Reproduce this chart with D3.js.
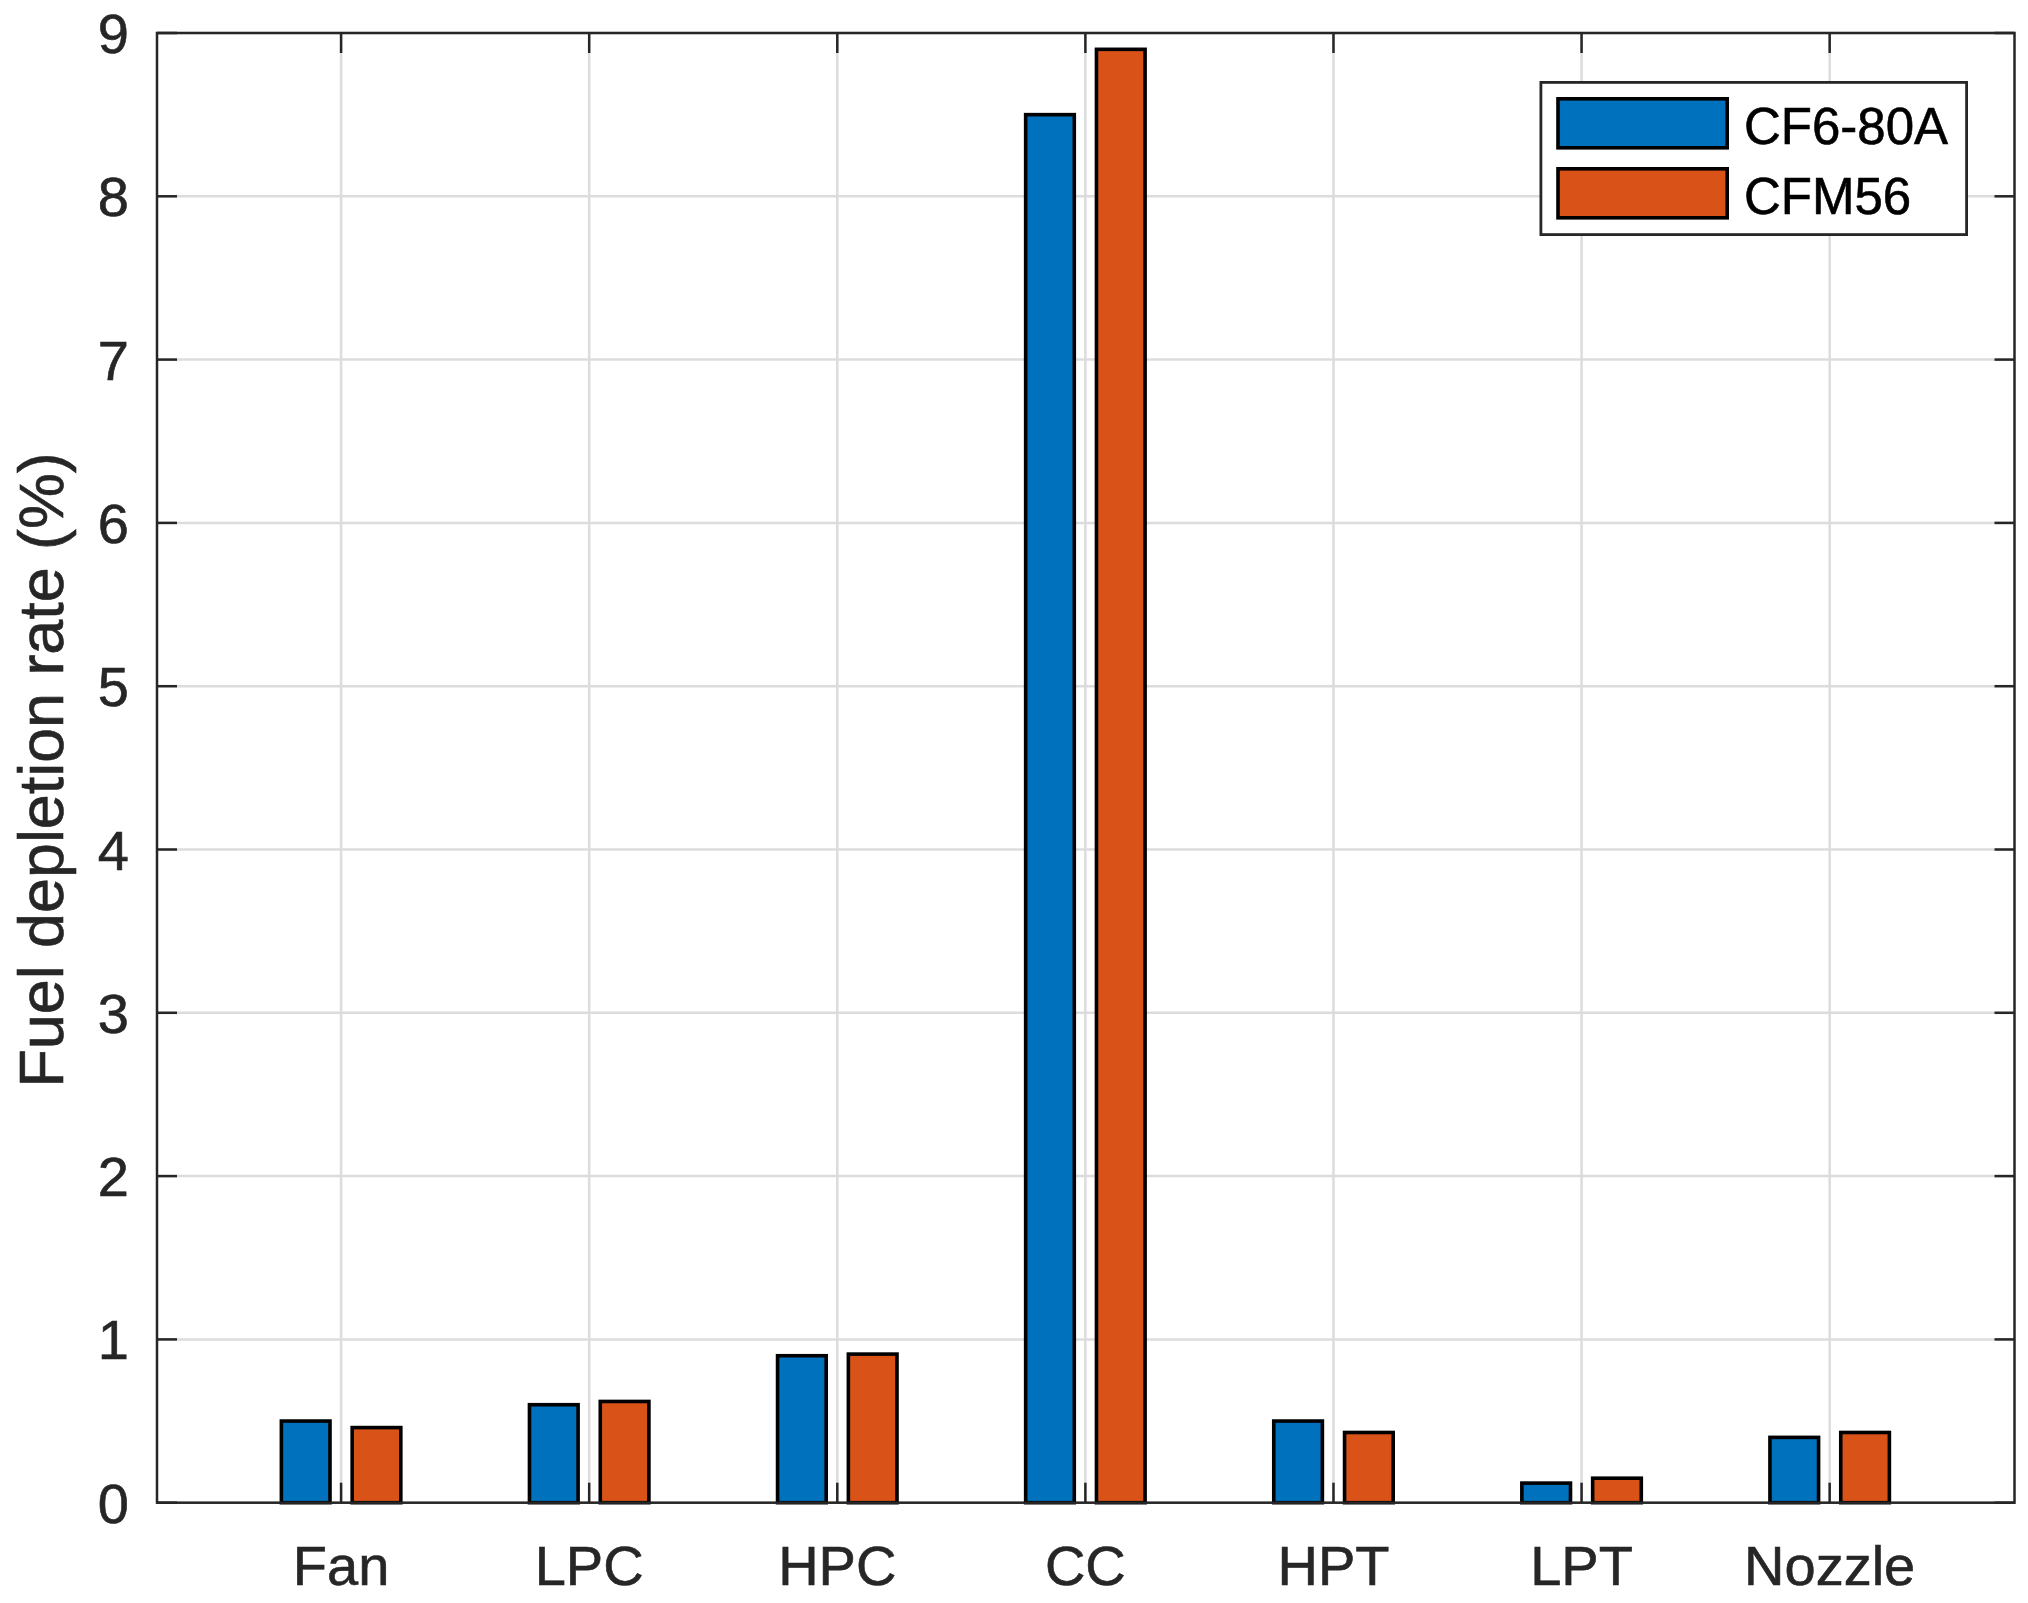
<!DOCTYPE html>
<html>
<head>
<meta charset="utf-8">
<script src="https://cdn.jsdelivr.net/npm/d3@7"></script>
<style>
  html, body { margin: 0; padding: 0; background: #fff; }
  svg { display: block; }
  text { font-family: "Liberation Sans", Arial, Helvetica, sans-serif; }
</style>
</head>
<body>
<svg id="chart" width="2028" height="1603"></svg>
<script>
const categories = ["Fan", "LPC", "HPC", "CC", "HPT", "LPT", "Nozzle"];
const seriesNames = ["CF6-80A", "CFM56"];
const cf680a = [0.5, 0.6, 0.9, 8.5, 0.5, 0.12, 0.4];
const cfm56 = [0.46, 0.62, 0.91, 8.9, 0.43, 0.15, 0.43];
const yTicks = [0, 1, 2, 3, 4, 5, 6, 7, 8, 9];
const colors = ["#0072BD", "#D95319"];
const yLabel = "Fuel depletion rate (%)";

const svg = d3.select("#chart");
const L = 157, R = 2014.5, T = 33, B = 1502.7;
const axisColor = "#262626";

const x = d3.scaleLinear().domain([0.258, 7.745]).range([L, R]);
const y = d3.scaleLinear().domain([0, 9]).range([B, T]);
const catPos = categories.map((c, i) => i + 1);

// grid
const grid = svg.append("g");
grid.selectAll("line.gx").data(catPos).join("line")
  .attr("x1", d => x(d)).attr("x2", d => x(d))
  .attr("y1", T).attr("y2", B)
  .attr("stroke", "#dcdcdc").attr("stroke-width", 2.5);
grid.selectAll("line.gy").data(yTicks).join("line")
  .attr("x1", L).attr("x2", R)
  .attr("y1", d => y(d)).attr("y2", d => y(d))
  .attr("stroke", "#dcdcdc").attr("stroke-width", 2.5);

// bars
const offset = 0.1427, bw = 0.196;
const series = [cf680a, cfm56];
series.forEach((vals, s) => {
  const off = s === 0 ? -offset : offset;
  svg.append("g").selectAll("rect").data(vals).join("rect")
    .attr("x", (d, i) => x(catPos[i] + off - bw / 2))
    .attr("width", x(bw) - x(0))
    .attr("y", d => y(d))
    .attr("height", d => y(0) - y(d))
    .attr("fill", colors[s])
    .attr("stroke", "#000")
    .attr("stroke-width", 3.6);
});

// axes: box + ticks
const tickLen = 20;
const axes = svg.append("g").attr("stroke", axisColor).attr("stroke-width", 2.5);
axes.append("rect").attr("x", L).attr("y", T).attr("width", R - L).attr("height", B - T)
  .attr("fill", "none");
axes.selectAll("line.xb").data(catPos).join("line").attr("class", "xb")
  .attr("x1", d => x(d)).attr("x2", d => x(d)).attr("y1", B).attr("y2", B - tickLen);
axes.selectAll("line.xt").data(catPos).join("line").attr("class", "xt")
  .attr("x1", d => x(d)).attr("x2", d => x(d)).attr("y1", T).attr("y2", T + tickLen);
axes.selectAll("line.yl").data(yTicks).join("line").attr("class", "yl")
  .attr("x1", L).attr("x2", L + tickLen).attr("y1", d => y(d)).attr("y2", d => y(d));
axes.selectAll("line.yr").data(yTicks).join("line").attr("class", "yr")
  .attr("x1", R).attr("x2", R - tickLen).attr("y1", d => y(d)).attr("y2", d => y(d));

// tick labels
svg.append("g").selectAll("text").data(yTicks).join("text")
  .attr("x", L - 28).attr("y", d => y(d) + 20)
  .attr("text-anchor", "end")
  .attr("font-size", 56).attr("fill", axisColor)
  .attr("stroke", axisColor).attr("stroke-width", 0.6)
  .text(d => d);
svg.append("g").selectAll("text").data(categories).join("text")
  .attr("x", (d, i) => x(catPos[i])).attr("y", 1585)
  .attr("text-anchor", "middle")
  .attr("font-size", 56).attr("fill", axisColor)
  .attr("stroke", axisColor).attr("stroke-width", 0.6)
  .text(d => d);

// y label
svg.append("text")
  .attr("transform", `translate(63,${(T + B) / 2 + 2}) rotate(-90)`)
  .attr("text-anchor", "middle")
  .attr("font-size", 62.8).attr("fill", axisColor)
  .attr("stroke", axisColor).attr("stroke-width", 0.6)
  .text(yLabel);

// legend
const lg = svg.append("g");
lg.append("rect").attr("x", 1540.9).attr("y", 82.4).attr("width", 425.7).attr("height", 152.2)
  .attr("fill", "#fff").attr("stroke", axisColor).attr("stroke-width", 2.8);
seriesNames.forEach((name, i) => {
  const yy = 98.8 + i * 70;
  lg.append("rect").attr("x", 1558).attr("y", yy).attr("width", 169.2).attr("height", 49)
    .attr("fill", colors[i]).attr("stroke", "#000").attr("stroke-width", 3.6);
  lg.append("text").attr("x", 1744).attr("y", yy + 45.4)
    .attr("font-size", 51).attr("fill", "#000")
    .attr("stroke", "#000").attr("stroke-width", 0.6)
    .text(name);
});
</script>
</body>
</html>
